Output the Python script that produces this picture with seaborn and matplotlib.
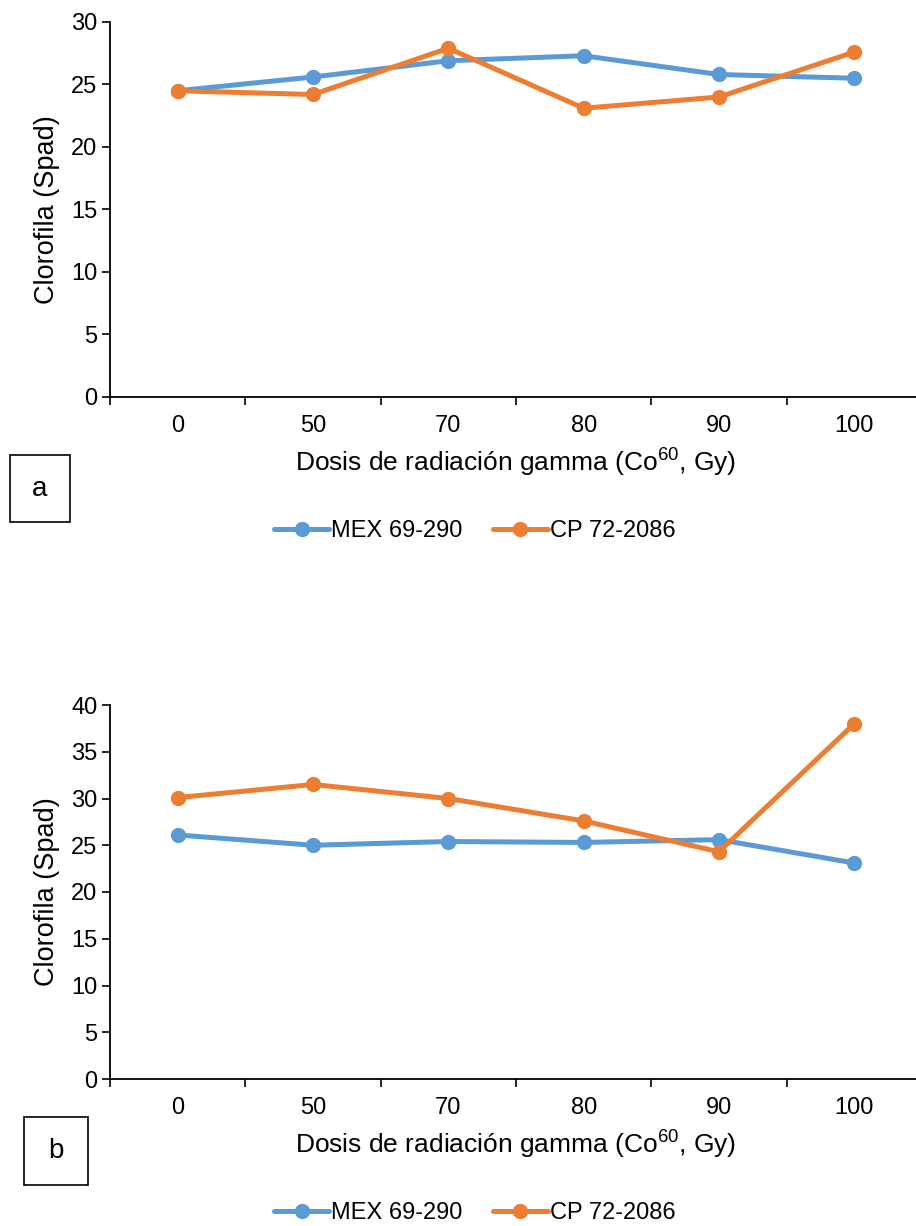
import pandas as pd
import matplotlib.pyplot as plt
import seaborn as sns
from matplotlib.patches import Rectangle
from matplotlib.ticker import FixedLocator

# Data
doses = ["0", "50", "70", "80", "90", "100"]
series_names = ["MEX 69-290", "CP 72-2086"]
mex_a = [24.5, 25.6, 26.9, 27.3, 25.8, 25.5]
cp_a = [24.5, 24.2, 27.9, 23.1, 24.0, 27.6]
mex_b = [26.1, 25.0, 25.4, 25.3, 25.6, 23.1]
cp_b = [30.1, 31.5, 30.0, 27.6, 24.3, 38.0]

colors = ["#5B9BD5", "#ED7D31"]

sns.set_style("white")
plt.rcParams["font.family"] = ["Liberation Sans", "DejaVu Sans"]
plt.rcParams["mathtext.fontset"] = "custom"
plt.rcParams["mathtext.rm"] = "Liberation Sans"
plt.rcParams["text.color"] = "black"
plt.rcParams["axes.labelcolor"] = "black"
plt.rcParams["xtick.color"] = "black"
plt.rcParams["ytick.color"] = "black"

W, H = 916, 1226
fig = plt.figure(figsize=(W / 100, H / 100), dpi=100)


def make_df(mex, cp):
    return pd.DataFrame({
        "dose": doses * 2,
        "value": mex + cp,
        "variety": [series_names[0]] * len(doses) + [series_names[1]] * len(doses),
    })


def panel(top_px, bottom_px, mex, cp, ymax, letter, box, legend_y):
    ax = fig.add_axes([110 / W, 1 - bottom_px / H, 812 / W, (bottom_px - top_px) / H])
    df = make_df(mex, cp)
    sns.lineplot(data=df, x="dose", y="value", hue="variety", palette=colors,
                 marker="o", markersize=11, markeredgewidth=0, linewidth=3.6,
                 sort=False, ax=ax, legend=True)
    ax.set_xlim(-0.5, 5.5)
    ax.set_ylim(0, ymax)
    ax.set_yticks(range(0, ymax + 1, 5))
    ax.xaxis.set_minor_locator(FixedLocator([i - 0.5 for i in range(7)]))
    ax.tick_params(axis="x", which="major", length=0, pad=13, labelsize=17)
    ax.tick_params(axis="x", which="minor", length=6, width=1.2, direction="out", bottom=True)
    ax.tick_params(axis="y", length=6, width=1.2, direction="out", left=True, labelsize=17, pad=3)
    for s in ["top", "right"]:
        ax.spines[s].set_visible(False)
    for s in ["left", "bottom"]:
        ax.spines[s].set_color("black")
        ax.spines[s].set_linewidth(1.3)
    ax.set_ylabel("Clorofila (Spad)", fontsize=19.5, labelpad=8)
    ax.set_xlabel(r"Dosis de radiación gamma (Co$^{\mathregular{60}}$, Gy)", fontsize=19, labelpad=6)
    ax.get_legend().remove()
    handles, labels = ax.get_legend_handles_labels()
    fig.legend(handles, labels, loc="center", ncol=2, frameon=False, fontsize=17,
               bbox_to_anchor=(475 / W, 1 - legend_y / H), bbox_transform=fig.transFigure,
               handlelength=2.3, handletextpad=0.1, columnspacing=1.3)
    x0, y0, x1, y1 = box
    fig.patches.append(Rectangle((x0 / W, 1 - y1 / H), (x1 - x0) / W, (y1 - y0) / H,
                                 transform=fig.transFigure, fill=False,
                                 edgecolor="black", linewidth=1.2))
    fig.text((x0 + x1) / 2 / W, 1 - (y0 + y1) / 2 / H, letter, ha="center", va="center", fontsize=20)
    return ax


panel(22, 397, mex_a, cp_a, 30, "a", (10, 455, 70, 522), 531)
panel(705, 1079, mex_b, cp_b, 40, "b", (24, 1117, 88, 1185), 1213)

fig.savefig("out.png", dpi=100)
